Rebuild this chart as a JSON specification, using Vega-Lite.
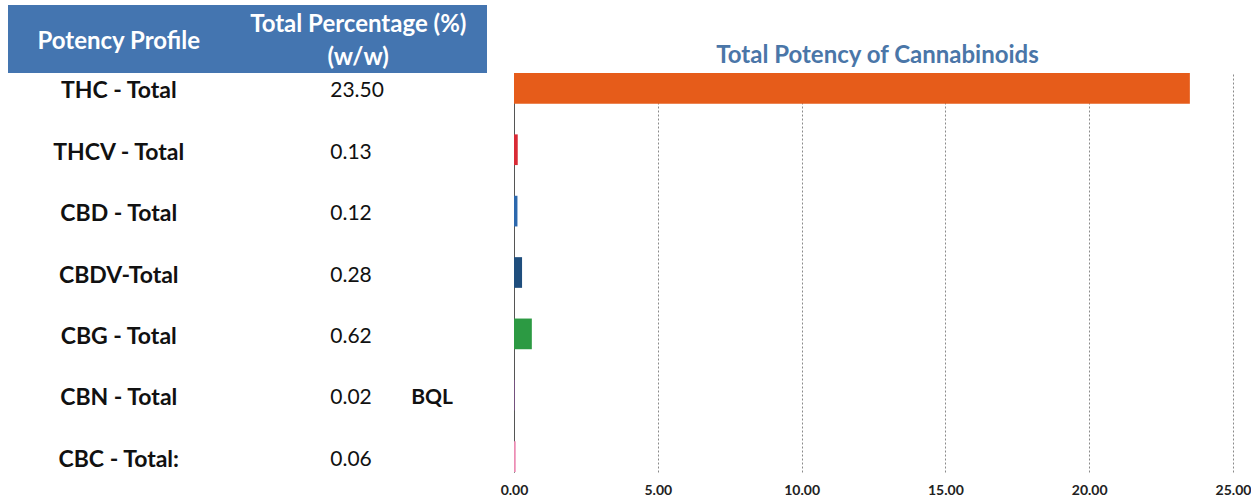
{
  "$schema": "https://vega.github.io/schema/vega-lite/v6.json",
  "padding": {"left": 8, "top": 5, "right": 0, "bottom": 0},
  "background": "white",
  "config": {"view": {"stroke": null}, "font": "Lato"},
  "datasets": {
    "rows": [
      {"name": "THC - Total", "pct": 23.50, "note": ""},
      {"name": "THCV - Total", "pct": 0.13, "note": ""},
      {"name": "CBD - Total", "pct": 0.12, "note": ""},
      {"name": "CBDV-Total", "pct": 0.28, "note": ""},
      {"name": "CBG - Total", "pct": 0.62, "note": ""},
      {"name": "CBN - Total", "pct": 0.02, "note": "BQL"},
      {"name": "CBC - Total:", "pct": 0.06, "note": ""}
    ],
    "header": [
      {"col": "Potency Profile", "label": "Potency Profile"},
      {"col": "Total Percentage", "label": "Total Percentage (%)\n(w/w)"}
    ],
    "chartTitle": [
      {"title": "Total Potency of Cannabinoids"}
    ]
  },
  "spacing": 0,
  "vconcat": [
    {
      "spacing": 27,
      "hconcat": [
        {
          "width": 479,
          "height": 68,
          "view": {"fill": "#4475b0", "stroke": null},
          "data": {"name": "header"},
          "encoding": {
            "x": {"field": "col", "type": "nominal", "sort": null, "axis": null,
                  "scale": {"domain": ["Potency Profile", "Total Percentage"], "paddingInner": 0, "paddingOuter": 0}},
            "text": {"field": "label"}
          },
          "layer": [
            {
              "transform": [{"filter": "datum.col == 'Potency Profile'"}],
              "mark": {"type": "text", "font": "Lato", "fontWeight": "bold", "fontSize": 24, "color": "white", "dx": -9, "dy": 3, "baseline": "middle"}
            },
            {
              "transform": [{"filter": "datum.col == 'Total Percentage'"}],
              "mark": {"type": "text", "font": "Lato", "fontWeight": "bold", "fontSize": 24, "color": "white", "lineBreak": "\n", "lineHeight": 33, "dx": -9, "dy": -14, "baseline": "middle"}
            }
          ]
        },
        {
          "width": 719,
          "height": 68,
          "data": {"name": "chartTitle"},
          "mark": {"type": "text", "font": "Lato", "fontWeight": "bold", "fontSize": 24, "color": "#4a76a8", "dy": 17, "dx": 4},
          "encoding": {"text": {"field": "title"}}
        }
      ]
    },
    {
      "spacing": 27,
      "bounds": "flush",
      "hconcat": [
        {
          "width": 479,
          "height": 399,
          "data": {"name": "rows"},
          "encoding": {
            "y": {"field": "name", "type": "nominal", "sort": null, "axis": null,
                  "scale": {"type": "band", "paddingInner": 0.5, "paddingOuter": 0}}
          },
          "layer": [
            {
              "mark": {"type": "text", "font": "Lato", "fontWeight": "bold", "fontSize": 23, "color": "#111111", "align": "center", "dx": -9, "dy": 3},
              "encoding": {
                "x": {"datum": "Potency Profile", "type": "nominal", "axis": null,
                      "scale": {"domain": ["Potency Profile", "Total Percentage"], "paddingInner": 0, "paddingOuter": 0}},
                "text": {"field": "name"}
              }
            },
            {
              "mark": {"type": "text", "font": "Lato", "fontSize": 21, "color": "#111111", "align": "left", "dx": -37, "dy": 3},
              "encoding": {
                "x": {"datum": "Total Percentage", "type": "nominal"},
                "text": {"field": "pct", "type": "quantitative", "format": ".2f"}
              }
            },
            {
              "transform": [{"filter": "datum.note != ''"}],
              "mark": {"type": "text", "font": "Lato", "fontWeight": "bold", "fontSize": 21, "color": "#111111", "align": "left", "dx": 44, "dy": 3},
              "encoding": {
                "x": {"datum": "Total Percentage", "type": "nominal"},
                "text": {"field": "note"}
              }
            }
          ]
        },
        {
          "width": 719,
          "height": 399,
          "data": {"name": "rows"},
          "mark": {"type": "bar"},
          "encoding": {
            "y": {"field": "name", "type": "nominal", "sort": null,
                  "scale": {"paddingInner": 0.5, "paddingOuter": 0},
                  "axis": {"labels": false, "ticks": false, "title": null, "domain": true, "domainColor": "#555555", "domainWidth": 1, "grid": false}},
            "x": {"field": "pct", "type": "quantitative",
                  "scale": {"domain": [0, 25], "nice": false},
                  "axis": {"values": [0, 5, 10, 15, 20, 25], "format": ".2f", "title": null, "domain": false, "ticks": false,
                           "labelFont": "Lato", "labelFontWeight": "bold", "labelFontSize": 14, "labelColor": "#222222", "labelPadding": 11,
                           "labelFlush": false, "labelOverlap": false,
                           "grid": true, "gridColor": "#8a8a8a", "gridDash": [2, 2], "gridWidth": 1}},
            "color": {"field": "name", "type": "nominal", "legend": null,
                      "scale": {"domain": ["THC - Total", "THCV - Total", "CBD - Total", "CBDV-Total", "CBG - Total", "CBN - Total", "CBC - Total:"],
                                "range": ["#e65c1a", "#d92a35", "#2c68ad", "#1f4e7d", "#2c9a43", "#8a4f9c", "#ec8db4"]}}
          }
        }
      ]
    }
  ]
}
